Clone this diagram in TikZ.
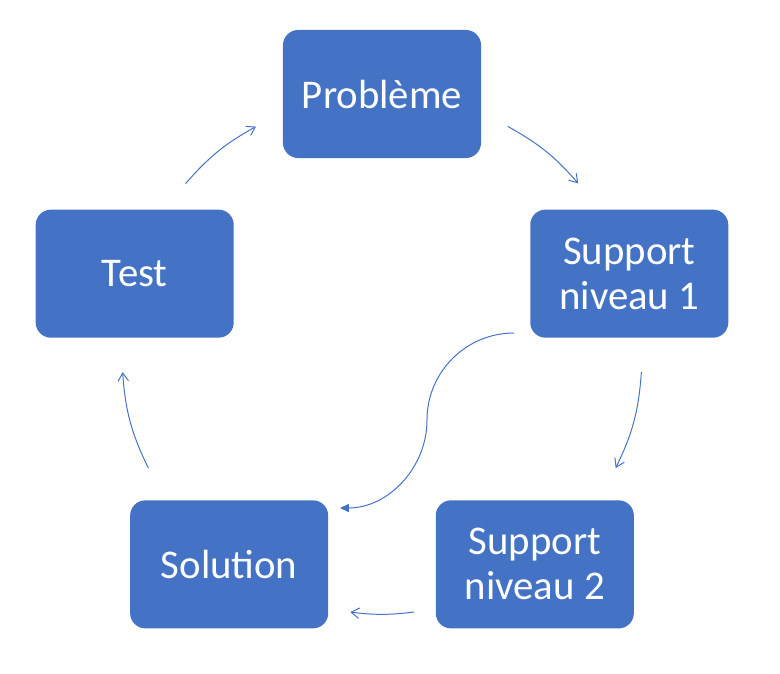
\documentclass[tikz,border=0pt]{standalone}
\usepackage{fontspec}
\setmainfont{Carlito}
\usetikzlibrary{arrows.meta}
\definecolor{boxblue}{HTML}{4472C4}
\tikzset{
  stepbox/.style={fill=boxblue,draw=none,rounded corners=0.38cm,text=white,
    minimum width=4.95cm,minimum height=3.2cm,align=center,
    font=\fontsize{29}{32}\selectfont},
  cyc/.style={draw=boxblue,line width=0.7pt,-{Straight Barb[length=0.2cm,width=0.26cm]}},
  skip/.style={draw=boxblue,line width=0.7pt,-{Triangle[length=0.22cm,width=0.2cm]}}
}
\begin{document}
\begin{tikzpicture}[line cap=round,line join=round,x=0.025cm,y=0.025cm]
\clip(-382,-319) rectangle (398,354);
\node[stepbox] (probleme) at (90:260) {Problème};
\node[stepbox] (niveau1) at (18:260) {Support\\niveau 1};
\node[stepbox] (niveau2) at (-54:260) {Support\\niveau 2};
\node[stepbox] (solution) at (-126:260) {Solution};
\node[stepbox] (test) at (162:260) {Test};
% ends of the cycle arrows
\coordinate (a1) at (61:260);
\coordinate (b1) at (41:260);
\coordinate (a2) at (-4:260);
\coordinate (b2) at (-26:260);
\coordinate (a3) at (-83:260);
\coordinate (b3) at (-97:260);
\coordinate (a4) at (-154:260);
\coordinate (b4) at (-176:260);
\coordinate (a5) at (139:260);
\coordinate (b5) at (119:260);
\draw [cyc] (a1) to[bend left=10] (b1);
\draw [cyc] (a2) to[bend left=11] (b2);
\draw [cyc] (a3) to[bend left=7] (b3);
\draw [cyc] (a4) to[bend left=11] (b4);
\draw [cyc] (a5) to[bend left=10] (b5);
% shortcut from niveau 1 to solution
\coordinate (s1) at (132,21);
\coordinate (s2) at (-42,-154);
\draw [skip] (s1) .. controls (84,21) and (45,-18) .. (45,-66)
  .. controls (45,-114) and (6,-154) .. (s2);
\end{tikzpicture}
\end{document}
